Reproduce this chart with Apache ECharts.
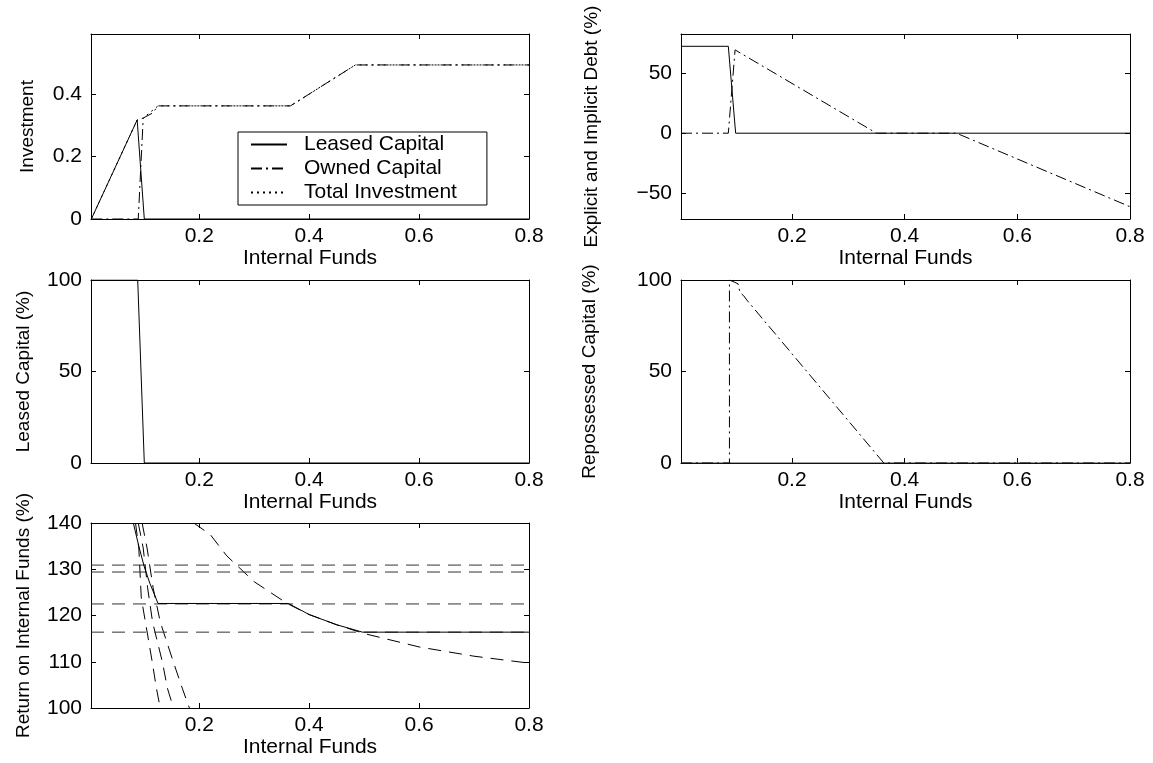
<!DOCTYPE html>
<html>
<head>
<meta charset="utf-8">
<script src="https://cdn.jsdelivr.net/npm/echarts@6/dist/echarts.min.js"></script>
<style>
  html, body { margin: 0; padding: 0; background: #fff; }
  #chart { width: 1153px; height: 763px; }
</style>
</head>
<body>
<div id="chart"></div>
<script>
// x axis: internal funds
const xTicks = [0.2, 0.4, 0.6, 0.8];
const xMin = 0.003;
const xMax = 0.8;

// panel 1: investment
const invLeased = [[0.0036, 0], [0.087, 0.317], [0.1, 0], [0.8, 0]];
const invOwned = [[0.0036, 0], [0.089, 0], [0.098, 0.323], [0.115, 0.339], [0.125, 0.362], [0.366, 0.362], [0.484, 0.493], [0.8, 0.493]];
const invTotal = [[0.0036, 0], [0.087, 0.317], [0.098, 0.323], [0.125, 0.362], [0.366, 0.362], [0.484, 0.493], [0.8, 0.493]];

// panel 2: explicit and implicit debt (%)
const debtLeased = [[0.003, 72.7], [0.087, 72.7], [0.1, 0], [0.8, 0]];
const debtOwned = [[0.003, 0], [0.087, 0], [0.099, 69.7], [0.35, 0], [0.492, 0], [0.8, -61.5]];

// panel 3: leased capital (%)
const shareLeased = [[0.003, 100], [0.088, 100], [0.1, 0], [0.8, 0]];

// panel 4: repossessed capital (%)
const reposLeased = [[0.003, 0], [0.8, 0]];
const reposOwned = [[0.003, 0], [0.089, 0], [0.089, 100], [0.104, 98], [0.108, 93], [0.114, 91.5], [0.12, 89], [0.363, 0], [0.8, 0]];

// panel 5: return on internal funds (%)
const retLevels = [130.9, 129.4, 122.5, 116.4];
const retSolid = [[0.08, 140], [0.09, 135], [0.1, 130.5], [0.11, 127], [0.125, 122.6], [0.362, 122.6], [0.4, 120.2], [0.45, 118], [0.497, 116.4], [0.8, 116.4]];
const retDash1 = [[0.084, 140], [0.09, 134.6], [0.0945, 123.8], [0.102, 118.6], [0.1145, 109.9], [0.122, 104.3], [0.129, 100]];
const retDash2 = [[0.089, 140], [0.098, 134.6], [0.106, 126], [0.115, 118.6], [0.133, 109.9], [0.142, 104.3], [0.153, 100]];
const retDash3 = [[0.096, 140], [0.105, 134.6], [0.116, 126], [0.129, 118.6], [0.153, 109.9], [0.169, 104.3], [0.182, 100]];
const retCurve = [[0.19, 140], [0.22, 137.5], [0.25, 132.9], [0.3, 127.3], [0.36, 122.6], [0.4, 120.2], [0.45, 118], [0.5, 116.1], [0.6, 113.2], [0.7, 111.2], [0.8, 109.7]];

const FONT = 'Liberation Sans, Arial, sans-serif';
const SOLID = 'solid';
const DASHDOT = [11, 4, 2, 4];
const DOTTED = [2, 4];
const DASHED = [13, 8];

const grids = [
  { left: 91, top: 34, width: 438, height: 185 },
  { left: 681, top: 34, width: 449, height: 185 },
  { left: 91, top: 280, width: 438, height: 183 },
  { left: 681, top: 280, width: 449, height: 183 },
  { left: 91, top: 523, width: 438, height: 185 }
];

const yConf = [
  { name: 'Investment', min: 0, max: 0.592, ticks: [0, 0.2, 0.4], gap: 54 },
  { name: 'Explicit and Implicit Debt (%)', min: -71.8, max: 83, ticks: [-50, 0, 50], gap: 80 },
  { name: 'Leased Capital (%)', min: 0, max: 100, ticks: [0, 50, 100], gap: 58 },
  { name: 'Repossessed Capital (%)', min: 0, max: 100, ticks: [0, 50, 100], gap: 82 },
  { name: 'Return on Internal Funds (%)', min: 100, max: 140, ticks: [100, 110, 120, 130, 140], gap: 58 }
];

const lineAx = { show: true, onZero: false, lineStyle: { color: '#000', width: 1 } };

const xAxes = [];
const yAxes = [];
grids.forEach((g, i) => {
  xAxes.push({
    type: 'value', gridIndex: i, min: xMin, max: xMax, position: 'bottom',
    name: 'Internal Funds', nameLocation: 'middle', nameGap: 24,
    nameTextStyle: { fontFamily: FONT, fontSize: 21, color: '#000' },
    axisLine: lineAx,
    axisTick: { show: true, inside: true, length: 5, customValues: xTicks, lineStyle: { color: '#000' } },
    axisLabel: { fontFamily: FONT, fontSize: 21, color: '#000', margin: 7, customValues: xTicks, formatter: v => String(v) },
    splitLine: { show: false }
  });
  xAxes.push({
    type: 'value', gridIndex: i, min: xMin, max: xMax, position: 'top',
    axisLine: lineAx,
    axisTick: { show: true, inside: true, length: 5, customValues: xTicks, lineStyle: { color: '#000' } },
    axisLabel: { show: false },
    splitLine: { show: false }
  });
  const y = yConf[i];
  yAxes.push({
    type: 'value', gridIndex: i, min: y.min, max: y.max, position: 'left',
    name: y.name, nameLocation: 'middle', nameGap: y.gap, nameRotate: 90,
    nameTextStyle: { fontFamily: FONT, fontSize: 19, color: '#000' },
    axisLine: lineAx,
    axisTick: { show: true, inside: true, length: 5, customValues: y.ticks, lineStyle: { color: '#000' } },
    axisLabel: {
      fontFamily: FONT, fontSize: 21, color: '#000', margin: 9, customValues: y.ticks,
      formatter: v => (v < 0 ? '\u2212' + Math.abs(v) : String(v))
    },
    splitLine: { show: false }
  });
  yAxes.push({
    type: 'value', gridIndex: i, min: y.min, max: y.max, position: 'right',
    axisLine: lineAx,
    axisTick: { show: true, inside: true, length: 5, customValues: y.ticks, lineStyle: { color: '#000' } },
    axisLabel: { show: false },
    splitLine: { show: false }
  });
});

function line(name, panel, data, type, color) {
  return {
    name: name, type: 'line', xAxisIndex: panel * 2, yAxisIndex: panel * 2,
    data: data, symbol: 'none', silent: true, animation: false,
    itemStyle: { color: color || '#000' },
    lineStyle: { color: color || '#000', width: 1, type: type }
  };
}

const series = [
  line('Total Investment', 0, invTotal, DOTTED),
  line('Owned Capital', 0, invOwned, DASHDOT),
  line('Leased Capital', 0, invLeased, SOLID),

  line('debtOwned', 1, debtOwned, DASHDOT),
  line('debtLeased', 1, debtLeased, SOLID),

  line('shareLeased', 2, shareLeased, SOLID),

  line('reposLeased', 3, reposLeased, SOLID, '#444'),
  line('reposOwned', 3, reposOwned, DASHDOT),

  line('retDash1', 4, retDash1, DASHED),
  line('retDash2', 4, retDash2, DASHED),
  line('retDash3', 4, retDash3, DASHED),
  line('retCurve', 4, retCurve, DASHED)
];
retLevels.forEach((v, k) => {
  series.push(line('retLevel' + k, 4, [[xMin, v], [xMax, v]], DASHED, '#333'));
});
series.push(line('retSolid', 4, retSolid, SOLID));

const option = {
  backgroundColor: '#fff',
  animation: false,
  textStyle: { fontFamily: FONT },
  grid: grids.map(g => Object.assign({ containLabel: false }, g)),
  xAxis: xAxes,
  yAxis: yAxes,
  legend: {
    data: ['Leased Capital', 'Owned Capital', 'Total Investment'],
    orient: 'vertical',
    left: 238, top: 132,
    padding: [2, 30, 2, 12],
    itemWidth: 36, itemHeight: 20, itemGap: 3,
    backgroundColor: '#fff',
    borderColor: '#000', borderWidth: 1, borderRadius: 0,
    selectedMode: false,
    itemStyle: { opacity: 0 },
    textStyle: { fontFamily: FONT, fontSize: 21, color: '#000', padding: [0, 0, 0, 12] }
  },
  series: series
};

const chart = echarts.init(document.getElementById('chart'), null, { renderer: 'canvas' });
chart.setOption(option);
</script>
</body>
</html>
